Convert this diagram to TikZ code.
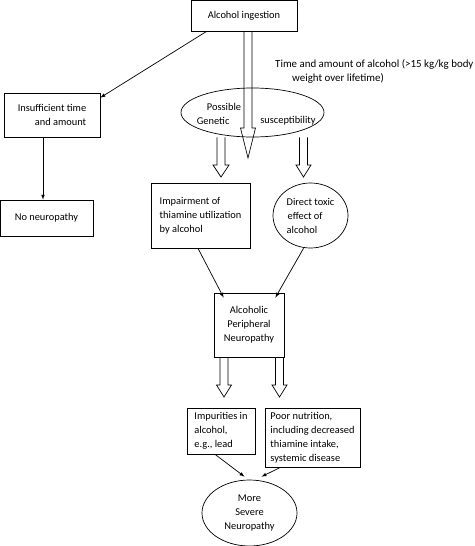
\documentclass[tikz,border=0pt]{standalone}
\usepackage{fontspec}
\setmainfont{Carlito}
\usepackage{tikz}
\usetikzlibrary{shapes.geometric}
\usetikzlibrary{calc}
\tikzstyle{box}=[draw=black, line width=0.7pt, rectangle, inner sep=0pt]
\tikzstyle{oval}=[draw=black, line width=0.7pt, ellipse, inner sep=0pt]
\tikzstyle{thin}=[draw=black, line width=0.7pt, -latex]
\tikzstyle{hollow}=[draw=black, line width=0.7pt, line join=miter]
\newcommand{\hollowarrow}[4]{%
  \draw[hollow] let \p1=#1, \p2=#2 in
    (\x1-4pt,\y1) -- (\x1-4pt,\y2+#3) -- (\x1-#4,\y2+#3) -- (\x1,\y2)
    -- (\x1+#4,\y2+#3) -- (\x1+4pt,\y2+#3) -- (\x1+4pt,\y1);
}

\begin{document}
\begin{tikzpicture}[x=1pt, y=-1pt, font=\fontsize{10.4}{14}\selectfont]
          \useasboundingbox (0,0) rectangle (474,546);
          \node[box, minimum width=106pt, minimum height=31pt] (ingest) at (244,15.5){Alcohol ingestion};
          \node[align=left, anchor=north west, inner sep=0pt, font=\fontsize{10.9}{14}\selectfont] (amount) at (275,59){Time and amount of alcohol (>15 kg/kg body\\\hspace*{17pt}weight over lifetime)};
          \node[oval, minimum width=143pt, minimum height=49pt] (genetic) at (252.5,112.5){};
          \node[align=left, inner sep=0pt] (genleft) at (219,113.5){\hspace*{10pt}Possible\\Genetic};
          \node[inner sep=0pt] (genright) at (288,120.5){susceptibility};
          \node[box, minimum width=96pt, minimum height=44pt, align=right] (insuff) at (52,115){Insufficient time\\and amount};
          \node[box, minimum width=93pt, minimum height=36pt] (noneuro) at (46.5,218){No neuropathy};
          \node[box, minimum width=99pt, minimum height=65pt, align=left] (impair) at (200.5,215.5){Impairment of\\thiamine utilization\\by alcohol};
          \node[oval, minimum width=75pt, minimum height=65pt, align=left] (toxic) at (310.5,215.5){Direct toxic\\\hspace*{1pt}effect of\\alcohol};
          \node[box, minimum width=70pt, minimum height=64pt, align=center] (apn) at (249,325){Alcoholic\\Peripheral\\Neuropathy};
          \node[box, minimum width=68pt, minimum height=46pt, align=left] (impur) at (221,431){Impurities in\\alcohol,\\e.g., lead};
          \node[box, minimum width=95pt, minimum height=59pt, align=left] (poor) at (312.5,437.5){Poor nutrition,\\including decreased\\thiamine intake,\\systemic disease};
          \node[oval, minimum width=95pt, minimum height=66pt, align=center] (severe) at (249.5,513){More\\Severe\\Neuropathy};
          \coordinate (bigtop) at ([xshift=4pt]ingest.south);
          \coordinate (bigtip) at (248,158);
          \coordinate (gentipl) at (221,177);
          \coordinate (gentipr) at (303.5,177);
          \coordinate (apntipl) at (224,397);
          \coordinate (apntipr) at (279.5,397);
          \hollowarrow{(bigtop)}{(bigtip)}{30pt}{7.5pt}
          \hollowarrow{(genetic.south -| gentipl)}{(gentipl)}{12pt}{8pt}
          \hollowarrow{(genetic.south -| gentipr)}{(gentipr)}{12pt}{7.5pt}
          \hollowarrow{(apn.south -| apntipl)}{(apntipl)}{12pt}{7.5pt}
          \hollowarrow{(apn.south -| apntipr)}{(apntipr)}{12pt}{7.5pt}
          \draw[thin]([xshift=16pt]ingest.south west) -- ([yshift=-5pt]insuff.north east);
          \draw[thin]([xshift=-9pt]insuff.south) -- ([xshift=-9pt]insuff.south |- noneuro.north);
          \draw[thin]([xshift=-2.5pt]impair.south) -- ([xshift=10pt, yshift=-5pt]apn.north west);
          \draw[thin](toxic.south) ++(-7pt,0pt) -- ([xshift=-9pt, yshift=-5pt]apn.north east);
          \draw[thin]([xshift=-6pt]impur.south) -- ([xshift=-5pt, yshift=3pt]severe.north);
          \draw[thin]([xshift=-32pt]poor.south) -- ([xshift=12pt, yshift=3pt]severe.north);
        \end{tikzpicture}
\end{document}
